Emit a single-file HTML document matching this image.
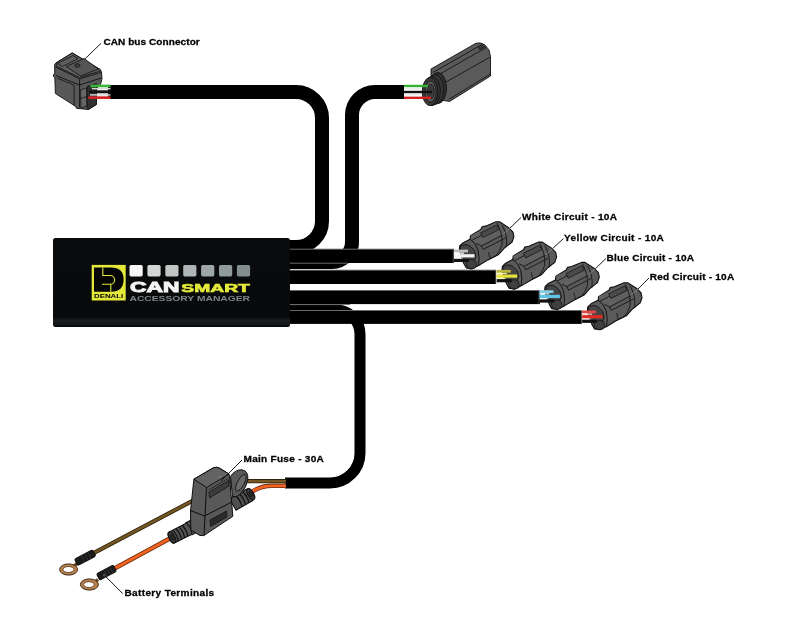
<!DOCTYPE html>
<html><head><meta charset="utf-8">
<style>
html,body{margin:0;padding:0;background:#fff;}
svg{display:block;will-change:transform;}
.lbl{font-family:"Liberation Sans",sans-serif;font-weight:bold;font-size:9.5px;fill:#000;stroke:#000;stroke-width:0.28px;}
.logo{font-family:"Liberation Sans",sans-serif;font-weight:bold;}
</style></head>
<body>
<svg width="800" height="625" viewBox="0 0 800 625">
<defs>
<linearGradient id="boxg" x1="0" y1="0" x2="0" y2="1">
  <stop offset="0" stop-color="#0a0b0d"/>
  <stop offset="0.89" stop-color="#08090b"/>
  <stop offset="0.925" stop-color="#1c1d20"/>
  <stop offset="0.97" stop-color="#151619"/>
  <stop offset="1" stop-color="#050607"/>
</linearGradient>
<g id="conn">
  <path d="M459.7,246 L462.9,242.9 L470,239.3 L470.5,235.7 L480.8,229.4 L482.1,226.7 L486.2,225.9 L496,221.8 L499.6,221.8 L508.6,227.6 L513,232.1 L513.9,236.6 L512.1,242 L504.1,248.3 L498.7,254.5 L488,259.9 L479,265.3 L471.8,268.9 L466.4,268 L463.8,263.5 L461.1,256.3 L459.3,250 Z" fill="#5a5a5a" stroke="#0d0d0d" stroke-width="1.1" stroke-linejoin="round"/>
  <path d="M470.5,235.7 L496,222.5 L501,227 L503.5,233 L481.5,245 L473,241 Z" fill="#606060" stroke="none"/>
  <path d="M470,239.3 Q476,243 478,250 Q480,258 478.5,265.5" fill="none" stroke="#141414" stroke-width="1"/>
  <path d="M460,246.5 Q465,243 470,246 Q476,250 476,256 Q475,262 470,263 Q464,262 461.5,256 Z" fill="#444" stroke="#141414" stroke-width="0.9"/>
  <path d="M465.5,262 Q471,257.5 475.5,261 Q478,265 475,268 Q470,270 467,267 Z" fill="#404040" stroke="#141414" stroke-width="0.8"/>
  <path d="M472,240.3 L499,226.2" fill="none" stroke="#151515" stroke-width="0.9"/>
  <path d="M480.5,233 L496.5,225 L499,229.5 L483,237.5 Z" fill="#4a4a4a" stroke="#161616" stroke-width="0.8"/>
  <path d="M476.5,243.5 L481.5,246 L503.5,234.5" fill="none" stroke="#151515" stroke-width="0.9"/>
  <path d="M481.5,246 L483,249.5 L505.5,238" fill="none" stroke="#151515" stroke-width="0.9"/>
  <path d="M497,223 Q503,234 502,245 Q500,251 496,256" fill="none" stroke="#151515" stroke-width="0.9"/>
  <path d="M502,225 Q508,235 506.5,247" fill="none" stroke="#151515" stroke-width="0.9"/>
  <path d="M488.5,252 L490,258.5 L496.5,255.5" fill="none" stroke="#151515" stroke-width="0.8"/>
  <path d="M502.5,235 L485,221 M508,229 L505,232" fill="none" stroke="#777" stroke-width="0" />
</g>
</defs>

<!-- CAN bus cable -->
<path d="M108,92 H296 A26,26 0 0 1 322,118 V221 A26,26 0 0 1 296,247 H286" fill="none" stroke="#000" stroke-width="14"/>
<!-- cable 2 -->
<path d="M404,92 H375 A23,23 0 0 0 352,115 V242 A20,20 0 0 1 332,262 H286" fill="none" stroke="#000" stroke-width="14"/>
<!-- bottom cable -->
<path d="M286,310 H336 A24,24 0 0 1 360,334 V453 A30,30 0 0 1 330,483 H285" fill="none" stroke="#000" stroke-width="11"/>

<!-- horizontal cables -->
<g fill="#000">
<rect x="286" y="249" width="168" height="14"/>
<rect x="286" y="270" width="210" height="14"/>
<rect x="286" y="290.4" width="254" height="13.7"/>
<rect x="286" y="310.3" width="296" height="13.6"/>
</g>
<g stroke="#6a6a6a" stroke-width="1">
<line x1="290" y1="249.2" x2="454" y2="249.2"/>
<line x1="290" y1="263.2" x2="348" y2="263.2"/>
<line x1="290" y1="270.2" x2="496" y2="270.2"/>
<line x1="290" y1="304.6" x2="350" y2="304.6"/>
<line x1="290" y1="310.5" x2="582" y2="310.5"/>
</g>

<g fill="#6d6d6d">
<rect x="452.8" y="249.4" width="0.8" height="13.4"/>
<rect x="495.5" y="270.3" width="0.8" height="13.4"/>
<rect x="538.6" y="290.6" width="0.8" height="13.3"/>
<rect x="581.2" y="310.5" width="0.8" height="13.3"/>
</g>
<!-- box -->
<rect x="53" y="238" width="237" height="89" rx="2.5" fill="url(#boxg)"/>

<!-- logo -->
<rect x="91.7" y="264.9" width="34" height="35.6" fill="#e3e83a"/>
<path d="M94,267.4 H111 Q123.6,267.4 123.6,279.5 Q123.6,291.7 111,291.7 H94 Z" fill="#050505"/>
<path d="M102.8,267.4 V275.5 H110.2 A4.4,4.4 0 0 1 110.2,284.3 H102 M110.8,284.3 V291.7" fill="none" stroke="#e3e83a" stroke-width="1.1"/>
<text class="logo" x="94" y="298.2" font-size="5.2" fill="#050505" textLength="29.2" lengthAdjust="spacingAndGlyphs">DENALI</text>

<g>
<rect x="129.5" y="265" width="13.2" height="11.4" rx="1.6" fill="#f6f7f6"/>
<rect x="147.4" y="265" width="13.2" height="11.4" rx="1.6" fill="#d3d8d6"/>
<rect x="165.3" y="265" width="13.2" height="11.4" rx="1.6" fill="#bfc6c3"/>
<rect x="183.2" y="265" width="13.2" height="11.4" rx="1.6" fill="#adb6b4"/>
<rect x="201.1" y="265" width="13.2" height="11.4" rx="1.6" fill="#9ca7a6"/>
<rect x="219" y="265" width="13.2" height="11.4" rx="1.6" fill="#8f9b9a"/>
<rect x="236.9" y="265" width="13.2" height="11.4" rx="1.6" fill="#828e8d"/>
</g>
<text class="logo" x="130" y="291.6" font-size="15" fill="#f4f4f4" stroke="#f4f4f4" stroke-width="1" textLength="49.4" lengthAdjust="spacingAndGlyphs">CAN</text>
<text class="logo" x="181.3" y="291.7" font-size="10.8" fill="#e3e83a" stroke="#e3e83a" stroke-width="0.6" textLength="68.6" lengthAdjust="spacingAndGlyphs">SMART</text>
<text class="logo" x="129.5" y="300.8" font-size="6.8" fill="#7f8484" font-weight="normal" textLength="120.5" lengthAdjust="spacingAndGlyphs">ACCESSORY MANAGER</text>

<!-- CAN bus connector -->
<g stroke="#0f0f0f" stroke-width="0.9" stroke-linejoin="round">
  <path d="M72.2,52.9 L55.9,63 L54.6,64.5 L54.8,74 L53.5,74.5 L53.5,76.5 L54.8,77 L55.4,93.5 L75.5,106.3 L76.5,108.3 L88.3,109.5 L96.4,104.5 L96.6,88.5 L100.5,84.5 L102,78.5 L101.5,72 L100.1,69.5 Z" fill="#585858"/>
  <path d="M72.2,52.9 L55.9,63 L57,66.5 L79.5,77.5 L100.6,71 L100.1,69.5 Z" fill="#626262"/>
  <path d="M57.5,63.5 L73,55.5 L78,58.5 L62.5,66.5 Z" fill="#5e5e5e" stroke-width="0.8"/>
  <path d="M66,66.5 L84,58.5 L98.5,69 L80.5,76 Z" fill="#555" stroke-width="0.8"/>
  <ellipse cx="77.5" cy="65.5" rx="2.6" ry="1.8" fill="#3f3f3f" stroke-width="0.7"/>
  <path d="M55.5,67 L79.5,79 L101,72.5" fill="none" stroke-width="0.8"/>
  <path d="M56,75.5 L79.6,85 L101,78" fill="none"/>
  <path d="M57,78 L74,85 L74.2,106" fill="none" stroke-width="0.8"/>
  <path d="M79.6,79 L79.6,107.5" fill="none"/>
  <path d="M80.5,90 L86.5,88 L87,106 L81,108 Z" fill="#666" stroke-width="0.7"/>
  <path d="M87,86.5 L96.6,83.5 L96.4,104.5 L88.3,109.5 L87,107 Z" fill="#303030" stroke-width="0.8"/>
  <path d="M80,98.5 L87,96.5" fill="none" stroke-width="0.7"/>
</g>
<!-- CAN wires -->
<g>
  <rect x="90.5" y="84.6" width="20" height="2.7" fill="#3cb43c"/>
  <rect x="92" y="88" width="18.5" height="1.4" fill="#d8d8d8"/>
  <rect x="89" y="90.3" width="21.5" height="3" fill="#151515"/>
  <rect x="90" y="94.2" width="20.5" height="1.4" fill="#d8d8d8"/>
  <rect x="88.5" y="96.3" width="22" height="2.7" fill="#d42424"/>
</g>
<!-- top connector 2 -->
<g stroke="#111" stroke-width="0.9" stroke-linejoin="round">
  <path d="M431,69 L476,43.2 Q481,42 485,45 L489,50 L490.5,56.4 L490.5,76 L449.6,101.4 L440,100 L431,90 Z" fill="#5a5a5a"/>
  <path d="M433,72.5 L477.5,47 M437,75.7 L486,47.6 M446,82 L490.2,57 M449,99.3 L490.5,74" fill="none" stroke-width="0.85"/>
  <path d="M477.5,47 L481,45.5 L486,47.6" fill="none" stroke-width="0.7"/>
  <rect x="478.5" y="45.5" width="5" height="3.2" fill="#3a3a3a" transform="rotate(-30 481 47)" stroke-width="0.6"/>
  <ellipse cx="438" cy="88" rx="8.5" ry="15.5" fill="#2e2e2e"/>
  <ellipse cx="435" cy="89.5" rx="8.5" ry="15" fill="#383838"/>
  <ellipse cx="432" cy="91" rx="8.4" ry="14.6" fill="#333"/>
  <ellipse cx="430" cy="91.6" rx="7.8" ry="14" fill="#3a3a3a"/>
  <ellipse cx="430.5" cy="91.6" rx="5.5" ry="10.5" fill="#5e5e5e" stroke-width="0.8"/>
  <ellipse cx="430.8" cy="91.6" rx="3.6" ry="7.5" fill="#3a3a3a" stroke-width="0.6"/>
</g>
<g stroke-width="2.4">
  <line x1="404" y1="86" x2="428" y2="86" stroke="#36b136"/>
  <line x1="404" y1="88.8" x2="421" y2="88.8" stroke="#e8e8e8" stroke-width="1.4"/>
  <line x1="404" y1="92" x2="432" y2="92" stroke="#111"/>
  <line x1="404" y1="94.8" x2="421" y2="94.8" stroke="#e8e8e8" stroke-width="1.4"/>
  <line x1="404" y1="97.8" x2="431" y2="97.8" stroke="#d42020"/>
</g>

<!-- circuit connectors -->
<use href="#conn"/>
<use href="#conn" transform="translate(42.7,20.3)"/>
<use href="#conn" transform="translate(85.4,40.6)"/>
<use href="#conn" transform="translate(128.1,60.9)"/>
<!-- circuit wires -->
<g transform="translate(0.0,0.0)">
  <rect x="454" y="249.6" width="14" height="2.8" fill="#bdbdbd"/>
  <rect x="454" y="252.6" width="10" height="1.2" fill="#ffffff"/>
  <rect x="454" y="254.2" width="20.5" height="3.2" fill="#f4f4f4"/>
  <rect x="454" y="257.6" width="9" height="1" fill="#ffffff"/>
  <rect x="454" y="258.8" width="15" height="3.2" fill="#111"/>
</g>
<g transform="translate(42.7,20.3)">
  <rect x="454" y="249.6" width="14" height="2.8" fill="#b9b43a"/>
  <rect x="454" y="252.6" width="10" height="1.2" fill="#f4f3b0"/>
  <rect x="454" y="254.2" width="20.5" height="3.2" fill="#e6e23a"/>
  <rect x="454" y="257.6" width="9" height="1" fill="#f4f3b0"/>
  <rect x="454" y="258.8" width="15" height="3.2" fill="#111"/>
</g>
<g transform="translate(85.4,40.6)">
  <rect x="454" y="249.6" width="14" height="2.8" fill="#86cde4"/>
  <rect x="454" y="252.6" width="10" height="1.2" fill="#d8f0f8"/>
  <rect x="454" y="254.2" width="20.5" height="3.2" fill="#5fc3e6"/>
  <rect x="454" y="257.6" width="9" height="1" fill="#d8f0f8"/>
  <rect x="454" y="258.8" width="15" height="3.2" fill="#111"/>
</g>
<g transform="translate(128.1,60.9)">
  <rect x="454" y="249.6" width="14" height="2.8" fill="#e34545"/>
  <rect x="454" y="252.6" width="10" height="1.2" fill="#f7d0d0"/>
  <rect x="454" y="254.2" width="20.5" height="3.2" fill="#e02a24"/>
  <rect x="454" y="257.6" width="9" height="1" fill="#f7d0d0"/>
  <rect x="454" y="258.8" width="15" height="3.2" fill="#111"/>
</g>

<!-- fuse wires -->
<path d="M94,552.8 L214,489.5 Q222,481.2 236,481.2 H286" fill="none" stroke="#2e230c" stroke-width="4.2"/>
<path d="M94,552.8 L214,489.5 Q222,481.2 236,481.2 H286" fill="none" stroke="#735621" stroke-width="2.5"/>
<path d="M114,568.8 L180,533 M250,493 Q260,485.8 272,485.8 H286" fill="none" stroke="#6a2c0c" stroke-width="4.4"/>
<path d="M114,568.8 L180,533 M250,493 Q260,485.8 272,485.8 H286" fill="none" stroke="#f26322" stroke-width="2.8"/>
<!-- fuse holder -->
<g stroke="#0e0e0e" stroke-width="1" stroke-linejoin="round">
  <!-- right boot -->
  <g transform="translate(251.8,493.6) rotate(-30)">
    <path d="M-22,-6.5 L-3,-6.5 Q1.5,-6.5 1.5,0 Q1.5,6.5 -3,6.5 L-22,6.5 Z" fill="#505050"/>
    <path d="M-15,-6.5 Q-13,0 -15,6.5 M-11,-6.5 Q-9,0 -11,6.5 M-7,-6.5 Q-5,0 -7,6.5" fill="none" stroke-width="1.2"/>
    <ellipse cx="-1.2" cy="0" rx="2.8" ry="6.2" fill="#3a3a3a"/>
    <ellipse cx="-1" cy="0" rx="1.4" ry="2.8" fill="#2a2a2a" stroke-width="0.6"/>
  </g>
  <!-- ear loop -->
  <path d="M230.5,476.5 Q235,469.5 242,469.8 Q248.5,471 247.8,479 Q247,487 240.5,494 Q236.5,498 232.5,496.5 Z" fill="#595959"/>
  <ellipse cx="240.8" cy="482.8" rx="3.4" ry="9.2" transform="rotate(28 240.8 482.8)" fill="#6a6a6a" stroke-width="0.8"/>
  <!-- left boot -->
  <g transform="translate(172,537.4) rotate(-27)">
    <path d="M0,-6.2 L18,-6.2 L19,-6.8 L30,-6.8 L30,6.8 L19,6.8 L18,6.2 L0,6.2 Q-3,6.2 -3,0 Q-3,-6.2 0,-6.2 Z" fill="#535353"/>
    <path d="M4,-6.2 Q6,0 4,6.2 M7.5,-6.2 Q9.5,0 7.5,6.2 M11,-6.2 Q13,0 11,6.2 M14.5,-6.2 Q16.5,0 14.5,6.2" fill="none" stroke-width="1.2"/>
    <path d="M19,-6.8 Q22,0 19,6.8" fill="none" stroke-width="0.9"/>
    <ellipse cx="0" cy="0" rx="2.8" ry="6" fill="#3c3c3c"/>
    <ellipse cx="0.2" cy="0" rx="1.5" ry="3" fill="#2a2a2a" stroke-width="0.6"/>
  </g>
  <!-- main box -->
  <path d="M193.9,479.2 L213,468 Q216.3,466.4 219.5,468.2 L229.1,474.1 L230,482 L232.8,516.3 L203.8,535.6 L200,535.5 L190.8,530 L190.5,511 Z" fill="#595959"/>
  <path d="M193.9,479.2 L213,468 Q216.3,466.4 219.5,468.2 L229.1,474.1 L206.5,487.5 Z" fill="#636363"/>
  <path d="M206.5,487.5 L204,535.5 M190.6,510.5 L204.5,516 L232,502" fill="none"/>
  <path d="M208.5,490 L228,478.5 M209,492 L228.5,480.5 L229,486 L209.5,498 Z" fill="#3c3c3c" stroke-width="0.7"/>
  <path d="M210,520 L226.5,511 L227,517 L210.5,526.5 Z" fill="#2b2b2b" stroke-width="0.7"/>
  <circle cx="220" cy="477" r="0.9" fill="none" stroke="#999" stroke-width="0.5"/>
</g>
<!-- terminals -->
<g stroke="#0e0e0e" stroke-width="0.9">
  <path d="M73,567 L77,563.5" stroke="#6a4a25" stroke-width="3.5"/>
  <ellipse cx="68.6" cy="569.5" rx="9" ry="5.6" fill="#b8804c" stroke="#3a2510" stroke-width="1"/>
  <ellipse cx="68.4" cy="569.5" rx="5.4" ry="3" fill="#fff" stroke="#4a3015" stroke-width="0.8"/>
  <g transform="translate(76.1,562.4) rotate(-27.9)">
    <rect x="0" y="-3.6" width="20.5" height="7.2" rx="1.6" fill="#1a1a1a"/>
    <path d="M8,-3.6 V3.6 M11.5,-3.6 V3.6 M15,-3.8 V3.8" stroke="#333" stroke-width="0.9"/>
  </g>
  <path d="M94,583 L98,579.5" stroke="#6a4a25" stroke-width="3.5"/>
  <ellipse cx="89.4" cy="584.5" rx="9" ry="5.6" fill="#b8804c" stroke="#3a2510" stroke-width="1"/>
  <ellipse cx="88.9" cy="584.6" rx="5.3" ry="2.9" fill="#fff" stroke="#4a3015" stroke-width="0.8"/>
  <g transform="translate(98.1,577) rotate(-27.9)">
    <rect x="0" y="-3.6" width="19" height="7.2" rx="1.6" fill="#1a1a1a"/>
    <path d="M8,-3.6 V3.6 M11.5,-3.6 V3.6 M15,-3.8 V3.8" stroke="#333" stroke-width="0.9"/>
  </g>
</g>

<!-- labels -->
<line x1="509.9" y1="228.2" x2="502.2" y2="235.0" stroke="#9a9a9a" stroke-width="0.7"/>
<line x1="552.6" y1="248.5" x2="544.9" y2="255.3" stroke="#9a9a9a" stroke-width="0.7"/>
<line x1="595.3" y1="268.8" x2="587.6" y2="275.6" stroke="#9a9a9a" stroke-width="0.7"/>
<line x1="638.0" y1="289.1" x2="630.3" y2="295.9" stroke="#9a9a9a" stroke-width="0.7"/>

<g stroke="#1a1a1a" stroke-width="1">
<line x1="84.8" y1="59" x2="101" y2="43.4"/>
<line x1="509.9" y1="228.2" x2="521" y2="217.5"/>
<line x1="552.6" y1="248.5" x2="563.5" y2="238.5"/>
<line x1="595.3" y1="268.8" x2="606" y2="258.5"/>
<line x1="638" y1="289.1" x2="649" y2="278"/>
<line x1="221" y1="481" x2="242" y2="460"/>
<line x1="104.3" y1="575.2" x2="122.8" y2="593.7"/>
<circle cx="104.3" cy="575.2" r="0.9" fill="none" stroke="#999" stroke-width="0.5"/>
</g>
<text class="lbl" transform="translate(103.4,45.4) scale(1.06,1)" x="0" y="0" textLength="90.9" lengthAdjust="spacing">CAN bus Connector</text>
<text class="lbl" transform="translate(522.1,219.6) scale(1.06,1)" x="0" y="0" textLength="89.5" lengthAdjust="spacing">White Circuit - 10A</text>
<text class="lbl" transform="translate(564.1,240.6) scale(1.06,1)" x="0" y="0" textLength="94.1" lengthAdjust="spacing">Yellow Circuit - 10A</text>
<text class="lbl" transform="translate(606.6,260.9) scale(1.06,1)" x="0" y="0" textLength="82.5" lengthAdjust="spacing">Blue Circuit - 10A</text>
<text class="lbl" transform="translate(649.7,280.0) scale(1.06,1)" x="0" y="0" textLength="79.7" lengthAdjust="spacing">Red Circuit - 10A</text>
<text class="lbl" transform="translate(243.5,461.5) scale(1.06,1)" x="0" y="0" textLength="75.8" lengthAdjust="spacing">Main Fuse - 30A</text>
<text class="lbl" transform="translate(124.5,595.5) scale(1.06,1)" x="0" y="0" textLength="84.6" lengthAdjust="spacing">Battery Terminals</text>
</svg>
</body></html>
